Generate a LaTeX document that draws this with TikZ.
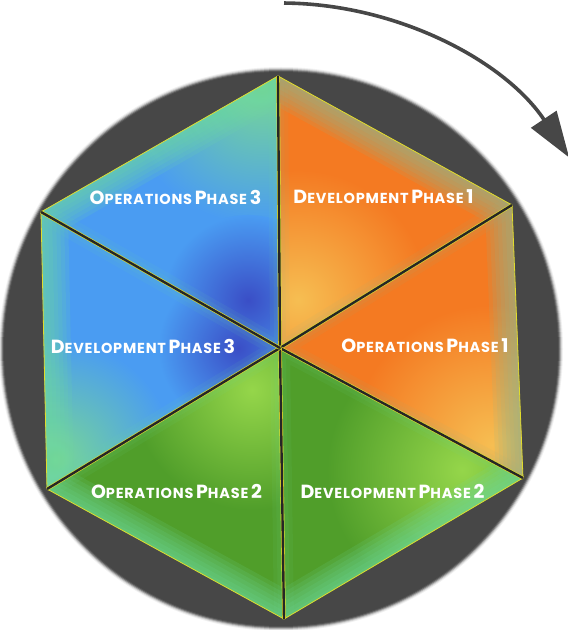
\documentclass[tikz,border=0pt]{standalone}
\usepackage{fontspec}
\newfontfamily\labfont{Poppins}[LetterSpace=5.5]
\usetikzlibrary{arrows.meta,calc}
\definecolor{bgdark}{HTML}{474747}
\definecolor{spokedark}{HTML}{262626}
\definecolor{edgeyel}{HTML}{E0DC2C}
\definecolor{glowc}{HTML}{6FDCA0}
\definecolor{glowo}{HTML}{8FB890}
\definecolor{orA}{HTML}{F47A22}
\definecolor{orB}{HTML}{F6BE52}
\definecolor{grDark}{HTML}{509E2A}
\definecolor{grLight}{HTML}{95D64A}
\definecolor{blMid}{HTML}{4A9CF2}
\definecolor{blDark}{HTML}{3A4EC6}
\definecolor{tealG}{HTML}{78D894}
\newcommand\pcap[2]{{\fontsize{19}{19}\selectfont #1}{\fontsize{14.5}{14.5}\selectfont #2}}
\newcommand\pbig[1]{{\fontsize{19}{19}\selectfont #1}}
% #1,#2 outer vertices, #3 base colour, #4 blob colour, #5 blob centre, #6 blob radius, #7 glow colour, #8 extra
\newcommand\tri[8]{%
  \begin{scope}
    \clip (C) -- (#1) -- (#2) -- cycle;
    \fill[#3] (C) -- (#1) -- (#2) -- cycle;
    #8
    \shade[inner color=#4, outer color=#3] (#5) circle[radius=#6];
    \foreach \w in {54,46,38,30,22,14,6}
      \draw[#7, line width=\w pt, opacity=0.14, line cap=round] (#1) -- (#2);
    \foreach \w in {20,12,5}
      \draw[#7, line width=\w pt, opacity=0.07] (#1) -- (C) -- (#2);
  \end{scope}}
\begin{document}
\begin{tikzpicture}[x=1pt,y=1pt,
  lab/.style={text=white, font=\labfont\bfseries, inner sep=0pt},
  spoke/.style={draw=edgeyel, line width=0.6pt, double=spokedark, double distance=2.4pt},
  rim/.style={draw=edgeyel, line width=0.8pt, line join=miter},
  turnarrow/.style={draw=bgdark, line width=3.6pt, -{Triangle[length=46pt,width=30pt]}}]
\useasboundingbox (0,0) rectangle (568,630);
\coordinate (O) at (281,281);
\coordinate (C) at (280,282);
\coordinate (T) at (278,554);
\coordinate (UR) at (512,425);
\coordinate (LR) at (523,152);
\coordinate (B) at (284,11);
\coordinate (LL) at (47,141);
\coordinate (UL) at (41,418);
% disc with soft edge
\foreach \r/\o in {282/0.08,281/0.15,280/0.3,279/0.5,278/0.75}
  \fill[bgdark, opacity=\o] (O) circle[radius=\r];
\fill[bgdark] (O) circle[radius=277];
% rotation arrow
\coordinate (arcstart) at ($(O)+(89.5:346)$);
\draw[turnarrow] (arcstart) arc[start angle=89.5, end angle=33.6, radius=346];
% triangles
\tri{T}{UR}{orA}{orB}{298,330}{130}{glowo}{}
\tri{UR}{LR}{orA}{orB}{492,185}{140}{glowo}{}
\tri{LR}{B}{grDark}{grLight}{462,160}{135}{glowc}{}
\tri{B}{LL}{grDark}{grLight}{252,240}{120}{glowc}{}
\tri{LL}{UL}{blMid}{blDark}{238,282}{80}{glowc}{\shade[inner color=tealG, outer color=blMid] (55,170) circle[radius=120];}
\tri{UL}{T}{blMid}{blDark}{248,330}{85}{glowc}{\shade[inner color=tealG, outer color=blMid] (262,545) circle[radius=140];}
% outer rim and spokes
\draw[rim] (T) -- (UR) -- (LR) -- (B) -- (LL) -- (UL) -- cycle;
\foreach \v in {T,UR,LR,B,LL,UL} \draw[spoke] (C) -- (\v);
% labels
\node[lab] (ops3) at (175.5,433) {\pcap{O}{PERATIONS} \pcap{P}{HASE} \pbig{3}};
\node[lab] (dev1) at (383.5,433) {\pcap{D}{EVELOPMENT} \pcap{P}{HASE} \pbig{1}};
\node[lab] (dev3) at (143,284) {\pcap{D}{EVELOPMENT} \pcap{P}{HASE} \pbig{3}};
\node[lab] (ops1) at (425,284) {\pcap{O}{PERATIONS} \pcap{P}{HASE} \pbig{1}};
\node[lab] (ops2) at (176.5,139) {\pcap{O}{PERATIONS} \pcap{P}{HASE} \pbig{2}};
\node[lab] (dev2) at (392.5,139) {\pcap{D}{EVELOPMENT} \pcap{P}{HASE} \pbig{2}};
\end{tikzpicture}
\end{document}
